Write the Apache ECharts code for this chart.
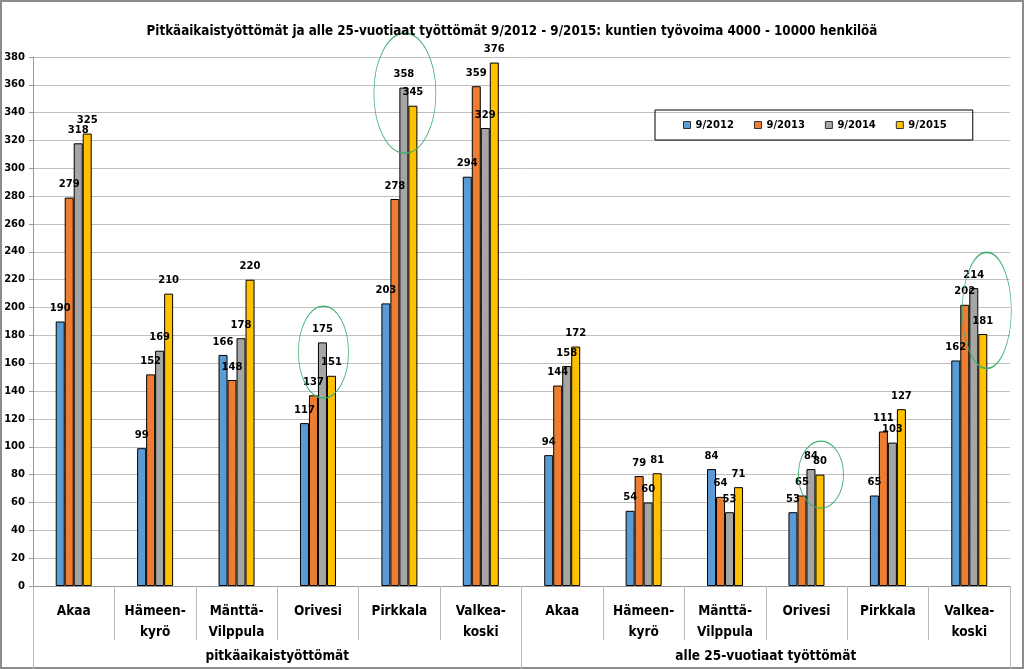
<!DOCTYPE html>
<html>
<head>
<meta charset="utf-8">
<script src="https://cdn.jsdelivr.net/npm/echarts@6/dist/echarts.min.js"></script>
<style>
  html, body { margin: 0; padding: 0; background: #fff; }
  #mainchart { width: 1024px; height: 669px; outline: 2px solid #8c8c8c; outline-offset: -2px; }
</style>
</head>
<body>
<div id="mainchart"></div>
<script>
var categories = ['Akaa', 'Hämeen-\nkyrö', 'Mänttä-\nVilppula', 'Orivesi', 'Pirkkala', 'Valkea-\nkoski',
                  'Akaa', 'Hämeen-\nkyrö', 'Mänttä-\nVilppula', 'Orivesi', 'Pirkkala', 'Valkea-\nkoski'];
var groups = ['pitkäaikaistyöttömät', 'alle 25-vuotiaat työttömät'];
var seriesNames = ['9/2012', '9/2013', '9/2014', '9/2015'];

var v2012 = [190, 99, 166, 117, 203, 294, 94, 54, 84, 53, 65, 162];
var v2013 = [279, 152, 148, 137, 278, 359, 144, 79, 64, 65, 111, 202];
var v2014 = [318, 169, 178, 175, 358, 329, 158, 60, 53, 84, 103, 214];
var v2015 = [325, 210, 220, 151, 345, 376, 172, 81, 71, 80, 127, 181];

// ympyröidyt kohdat: [kategoria, arvo]
var circled = [[3, 168], [4, 354], [9, 80], [11, 198]];

var colors = ['#5B9BD5', '#ED7D31', '#A5A5A5', '#FFC000'];
var values = [v2012, v2013, v2014, v2015];

var narrowFont = "'Liberation Sans Narrow', 'DejaVu Sans Condensed', 'Liberation Sans', sans-serif";

var myChart = echarts.init(document.getElementById('mainchart'));

var ellipseSizes = [[50, 92], [62, 120], [45, 67], [49, 116]];
var ellipseOffsets = [[1, 0], [1, 0], [10, 0], [13, 0]];

var series = seriesNames.map(function(name, i) {
    var s = {
        name: name,
        type: 'bar',
        barWidth: 9,
        barGap: '0%',
        data: values[i],
        itemStyle: { color: colors[i], borderColor: '#000', borderWidth: 1 },
        label: {
            show: true,
            position: 'top',
            distance: 8,
            color: '#000',
            fontFamily: 'DejaVu Sans',
            fontWeight: 'bold',
            fontSize: 10
        }
    };
    if (i === 2) {
        s.markPoint = {
            symbol: 'path://M0,50 A50,50 0 1,1 100,50 A50,50 0 1,1 0,50 Z',
            symbolKeepAspect: false,
            silent: true,
            label: { show: false },
            itemStyle: { color: 'rgba(0,0,0,0)', borderColor: '#3FAE6E', borderWidth: 1 },
            data: circled.map(function(c, k) {
                return { coord: c, symbolSize: ellipseSizes[k], symbolOffset: ellipseOffsets[k] };
            })
        };
    }
    return s;
});

var option = {
    color: colors,
    title: {
        text: 'Pitkäaikaistyöttömät ja alle 25-vuotiaat työttömät 9/2012 - 9/2015: kuntien työvoima 4000 - 10000 henkilöä',
        left: 'center',
        top: 20,
        textStyle: { fontFamily: narrowFont, fontWeight: 'bold', fontSize: 13.3, color: '#000' }
    },
    legend: {
        data: seriesNames,
        left: 655,
        top: 110,
        padding: [10, 26, 10, 28],
        itemGap: 20,
        itemWidth: 7,
        itemHeight: 7,
        borderColor: '#000',
        borderWidth: 1,
        icon: 'rect',
        itemStyle: { borderColor: '#333', borderWidth: 1 },
        textStyle: { fontFamily: 'DejaVu Sans', fontWeight: 'bold', fontSize: 10, color: '#000' }
    },
    grid: { left: 33, right: 14, top: 57, bottom: 83, containLabel: false },
    xAxis: [{
        type: 'category',
        data: categories,
        position: 'bottom',
        axisLine: { lineStyle: { color: '#999' } },
        axisTick: { show: true, interval: 0, length: 54, lineStyle: { color: '#bbb' } },
        axisLabel: {
            interval: 0,
            margin: 15,
            lineHeight: 21,
            fontFamily: narrowFont,
            fontWeight: 'bold',
            fontSize: 13.5,
            color: '#000'
        }
    }, {
        type: 'category',
        data: groups,
        position: 'bottom',
        axisLine: { show: false },
        axisTick: { show: true, interval: 0, length: 83, lineStyle: { color: '#bbb' } },
        axisLabel: {
            interval: 0,
            margin: 63,
            fontFamily: narrowFont,
            fontWeight: 'bold',
            fontSize: 13.5,
            color: '#000'
        }
    }],
    yAxis: {
        type: 'value',
        min: 0,
        max: 380,
        interval: 20,
        axisLine: { show: true, lineStyle: { color: '#999' } },
        axisTick: { show: true, length: 4, lineStyle: { color: '#999' } },
        axisLabel: { margin: 8, fontFamily: 'DejaVu Sans', fontWeight: 'bold', fontSize: 10, color: '#000' },
        splitLine: { lineStyle: { color: '#BFBFBF', width: 1 } }
    },
    series: series
};

myChart.setOption(option);
</script>
</body>
</html>
